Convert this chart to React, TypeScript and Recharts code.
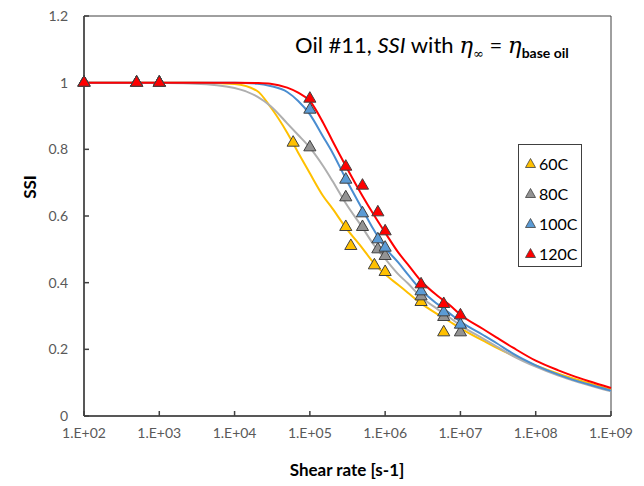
import React from 'react';
import { ComposedChart, Line, Scatter, XAxis, YAxis, ReferenceArea } from 'recharts';

// model curves
const CURVE_X = [
  1e2, 3e2, 1e3, 3e3, 1e4, 2e4, 3e4, 5e4, 7e4, 1e5, 1.5e5, 2e5, 3e5, 5e5, 7e5, 1e6, 1.5e6, 2e6, 3e6,
  5e6, 7e6, 1e7, 2e7, 3e7, 5e7, 1e8, 2e8, 3e8, 5e8, 1e9,
];
const CURVE_60 = [
  1, 1, 1, 1, 0.996, 0.975, 0.927, 0.85, 0.79, 0.728, 0.66, 0.622, 0.565, 0.503, 0.46, 0.425, 0.393,
  0.37, 0.338, 0.305, 0.285, 0.263, 0.226, 0.205, 0.181, 0.152, 0.127, 0.114, 0.099, 0.079,
];
const CURVE_80 = [
  1, 1, 0.999, 0.997, 0.984, 0.958, 0.93, 0.878, 0.843, 0.805, 0.75, 0.705, 0.638, 0.565, 0.515,
  0.472, 0.425, 0.398, 0.357, 0.32, 0.297, 0.272, 0.232, 0.209, 0.18, 0.148, 0.121, 0.108, 0.093, 0.074,
];
const CURVE_100 = [
  1, 1, 1, 1, 1, 0.997, 0.99, 0.972, 0.945, 0.905, 0.838, 0.79, 0.712, 0.62, 0.56, 0.505, 0.46,
  0.425, 0.378, 0.335, 0.31, 0.283, 0.243, 0.219, 0.187, 0.152, 0.124, 0.11, 0.095, 0.076,
];
const CURVE_120 = [
  1, 1, 1, 1, 1, 0.999, 0.997, 0.985, 0.97, 0.945, 0.88, 0.825, 0.75, 0.66, 0.605, 0.55, 0.49,
  0.455, 0.405, 0.36, 0.335, 0.304, 0.261, 0.236, 0.205, 0.166, 0.137, 0.122, 0.105, 0.084,
];

// measured points (shear rate, SSI)
const PTS_60_X = [1e2, 5e2, 1e3, 6e4, 3e5, 3.5e5, 7.2e5, 1e6, 3e6, 6e6];
const PTS_60_Y = [1, 1, 1, 0.82, 0.567, 0.51, 0.452, 0.432, 0.342, 0.251];
const PTS_80_X = [1e2, 5e2, 1e3, 1e5, 3e5, 5e5, 8e5, 1e6, 3e6, 6e6, 1e7];
const PTS_80_Y = [1, 1, 1, 0.806, 0.656, 0.567, 0.5, 0.48, 0.359, 0.297, 0.251];
const PTS_100_X = [1e2, 5e2, 1e3, 1e5, 3e5, 5e5, 8e5, 1e6, 3e6, 6e6, 1e7];
const PTS_100_Y = [1, 1, 1, 0.919, 0.709, 0.608, 0.53, 0.505, 0.374, 0.311, 0.274];
const PTS_120_X = [1e2, 5e2, 1e3, 1e5, 3e5, 5e5, 8e5, 1e6, 3e6, 6e6, 1e7];
const PTS_120_Y = [1, 1, 1, 0.952, 0.748, 0.691, 0.611, 0.554, 0.395, 0.336, 0.302];

const X_TICKS = [1e2, 1e3, 1e4, 1e5, 1e6, 1e7, 1e8, 1e9];
const Y_TICKS = [0, 0.2, 0.4, 0.6, 0.8, 1, 1.2];

const SERIES = [
  { key: 'c60', name: '60C', line: '#FFC000', fill: '#FFC000', xs: PTS_60_X, ys: PTS_60_Y },
  { key: 'c80', name: '80C', line: '#AFAFAF', fill: '#939393', xs: PTS_80_X, ys: PTS_80_Y },
  { key: 'c100', name: '100C', line: '#4A8DD0', fill: '#5B9BD5', xs: PTS_100_X, ys: PTS_100_Y },
  { key: 'c120', name: '120C', line: '#FF0000', fill: '#FF0000', xs: PTS_120_X, ys: PTS_120_Y },
];

const curveRows = CURVE_X.map((x, i) => ({
  x,
  c60: CURVE_60[i],
  c80: CURVE_80[i],
  c100: CURVE_100[i],
  c120: CURVE_120[i],
}));

const FONT = 'Lato, "Open Sans", sans-serif';
const TICK = { fill: '#595959', fontSize: 14, fontFamily: FONT };

const fmtExp = (v: number) => `1.E+${String(Math.round(Math.log10(v))).padStart(2, '0')}`;

function LegendBox() {
  return (
    <div
      style={{
        position: 'absolute',
        left: 518,
        top: 144,
        width: 64,
        height: 123,
        border: '1px solid #404040',
        background: '#fff',
        boxSizing: 'border-box',
        padding: '3px 0 0 6px',
        fontFamily: FONT,
        fontSize: 16,
        color: '#000',
      }}
    >
      {SERIES.map((s) => (
        <div key={s.key} style={{ display: 'flex', alignItems: 'center', height: 30, gap: 3 }}>
          <svg width={11} height={10}>
            <polygon points="5.5,0.5 10.5,9.5 0.5,9.5" fill={s.fill} stroke="#404040" strokeWidth={0.8} />
          </svg>
          <span>{s.name}</span>
        </div>
      ))}
    </div>
  );
}

export default function App() {
  return (
    <div style={{ position: 'absolute', left: 0, top: 0, width: 644, height: 486, background: '#fff' }}>
      <ComposedChart
        width={644}
        height={486}
        data={curveRows}
        margin={{ top: 16, right: 33, bottom: 0, left: 0 }}
      >
        <XAxis
          dataKey="x"
          type="number"
          scale="log"
          domain={[1e2, 1e9]}
          ticks={X_TICKS}
          tickFormatter={fmtExp}
          interval={0}
          height={70}
          tickSize={-5}
          tickMargin={17}
          tick={TICK}
          stroke="#404040"
          strokeWidth={1.5}
          label={() => (
            <text
              x={347}
              y={476}
              textAnchor="middle"
              fontFamily={FONT}
              fontSize={17}
              fontWeight="bold"
              fill="#000"
            >
              Shear rate [s-1]
            </text>
          )}
        />
        <YAxis
          type="number"
          domain={[0, 1.2]}
          ticks={Y_TICKS}
          interval={0}
          width={84}
          tickSize={-5}
          tickMargin={21}
          tick={TICK}
          stroke="#404040"
          strokeWidth={1.5}
          label={() => (
            <text
              x={36}
              y={187}
              transform="rotate(-90 36 187)"
              textAnchor="middle"
              fontFamily={FONT}
              fontSize={17}
              fontWeight="bold"
              fill="#000"
            >
              SSI
            </text>
          )}
        />
        <ReferenceArea x1={1e2} x2={1e9} y1={0} y2={1.2} fill="none" stroke="#404040" strokeWidth={1} />
        {SERIES.map((s) => (
          <Line
            key={s.key}
            dataKey={s.key}
            type="monotone"
            stroke={s.line}
            strokeWidth={2}
            dot={false}
            activeDot={false}
            isAnimationActive={false}
          />
        ))}
        {SERIES.map((s) => (
          <Scatter
            key={'p' + s.key}
            name={s.name}
            data={s.xs.map((x, i) => ({ x, y: s.ys[i] }))}
            dataKey="y"
            shape="triangle"
            size={110}
            fill={s.fill}
            stroke="#404040"
            strokeWidth={1}
            isAnimationActive={false}
          />
        ))}
      </ComposedChart>
      <LegendBox />
      <div
        style={{
          position: 'absolute',
          left: 295,
          top: 31,
          fontFamily: FONT,
          fontSize: 22,
          color: '#000',
          whiteSpace: 'nowrap',
          lineHeight: '28px',
        }}
      >
        Oil #11, <i>SSI</i> with{' '}
        <span style={{ fontFamily: '"DejaVu Serif", serif', fontStyle: 'italic', fontSize: 23 }}>η</span>
        <sub style={{ fontSize: 13, fontFamily: '"DejaVu Serif", serif' }}>∞</sub> ={' '}
        <span style={{ fontFamily: '"DejaVu Serif", serif', fontStyle: 'italic', fontSize: 23 }}>η</span>
        <sub style={{ fontSize: 14, fontWeight: 'bold' }}>base oil</sub>
      </div>
    </div>
  );
}
